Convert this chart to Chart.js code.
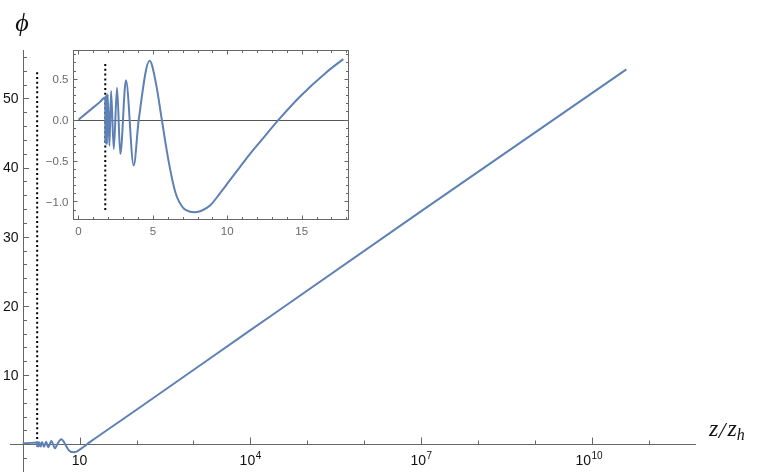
<!DOCTYPE html>
<html><head><meta charset="utf-8">
<script src="https://cdn.jsdelivr.net/npm/chart.js@4.4.1/dist/chart.umd.min.js"></script>
<style>
html,body{margin:0;padding:0;background:#fff;}
#wrap{position:relative;width:768px;height:475px;overflow:hidden;}
#main{position:absolute;left:0;top:0;}
#inset{position:absolute;left:40px;top:40px;}
</style></head><body>
<div id="wrap"><canvas id="main" width="768" height="475"></canvas><canvas id="inset" width="320" height="205"></canvas></div>
<script>
// ---- data ----
const zNear = [0, 1.0, 1.4, 1.8, 1.802, 1.804, 1.807, 1.811, 1.815, 1.821, 1.830, 1.842, 1.858, 1.882, 1.914, 1.96,
  2.08, 2.19, 2.37, 2.59, 2.81, 3.19, 3.71, 4.05, 4.78, 5.2, 5.6, 6.05, 6.5, 7.0, 7.5, 7.85, 8.3, 8.84, 9.51, 10.18,
  10.85, 11.52, 12.3, 13.46, 14.88, 16.67, 17.8];
const phiNear = [0, 0.15, 0.21, 0.27, -0.27, 0.27, -0.28, 0.28, -0.28, 0.28, -0.29, 0.29, -0.29, 0.30, -0.30, 0.31,
  -0.32, 0.35, -0.36, 0.39, -0.42, 0.48, -0.56, 0.0, 0.72, 0.45, 0.0, -0.5, -0.88, -1.07, -1.125, -1.13, -1.11, -1.05, -0.90, -0.74,
  -0.58, -0.42, -0.25, 0.0, 0.28, 0.58, 0.74];
const zTail = [100, 1e4, 1e7, 4e10];
const phiTail = [5.0, 16.5, 33.7, 54.2];
const zStar = 1.8;
const markerPhiMain = [53.8, -0.4];
const markerPhiInset = [0.68, -1.13];

const mainYTicks = [10, 20, 30, 40, 50];
const mainYTickLabels = ['10', '20', '30', '40', '50'];
const mainXTickExps = [1, 4, 7, 10];
const insetXTicks = [0, 5, 10, 15];
const insetXTickLabels = ['0', '5', '10', '15'];
const insetYTicks = [-1.0, -0.5, 0.0, 0.5];
const insetYTickLabels = ['\u22121.0', '\u22120.5', '0.0', '0.5'];

const BLUE = '#5E81B5';
const AXIS = '#666666';
const SANS = '"Liberation Sans", Arial, sans-serif';
const SERIF = '"Liberation Serif", "DejaVu Serif", serif';

const mainCurve = [];
zNear.forEach((z, i) => { if (z > 0) mainCurve.push({x: z, y: phiNear[i]}); });
zTail.forEach((z, i) => mainCurve.push({x: z, y: phiTail[i]}));
const insetCurve = zNear.map((z, i) => ({x: z, y: phiNear[i]}));

const mainAxes = {
  id: 'mainAxes',
  beforeDatasetsDraw(chart) {
    const ctx = chart.ctx, xs = chart.scales.x, ys = chart.scales.y, a = chart.chartArea;
    const y0 = Math.round(ys.getPixelForValue(0)) + 0.5;
    const x1 = Math.round(xs.getPixelForValue(1)) + 0.5;
    ctx.save();
    ctx.strokeStyle = AXIS; ctx.lineWidth = 1;
    ctx.beginPath();
    ctx.moveTo(a.left, y0); ctx.lineTo(a.right, y0);
    ctx.moveTo(x1, a.top); ctx.lineTo(x1, a.bottom);
    for (let v = -2; v <= 56; v += 2) {
      if (v === 0) continue;
      const py = Math.round(ys.getPixelForValue(v)) + 0.5;
      const len = mainYTicks.includes(v) ? 5.5 : 3.5;
      ctx.moveTo(x1, py); ctx.lineTo(x1 + len, py);
    }
    for (let e = 1; e <= 11; e++) {
      const px = Math.round(xs.getPixelForValue(Math.pow(10, e))) + 0.5;
      const len = mainXTickExps.includes(e) ? 7 : 4;
      ctx.moveTo(px, y0); ctx.lineTo(px, y0 - len);
    }
    ctx.stroke();
    ctx.fillStyle = '#111';
    ctx.font = '14px ' + SANS;
    ctx.textAlign = 'right'; ctx.textBaseline = 'middle';
    mainYTicks.forEach((v, i) => {
      ctx.fillText(mainYTickLabels[i], x1 - 5, ys.getPixelForValue(v) + 1);
    });
    ctx.textBaseline = 'alphabetic'; ctx.textAlign = 'left';
    mainXTickExps.forEach(e => {
      const cx = xs.getPixelForValue(Math.pow(10, e));
      const baseY = 465;
      ctx.font = '14px ' + SANS;
      const w1 = ctx.measureText('10').width;
      if (e === 1) { ctx.fillText('10', cx - w1 / 2, baseY); return; }
      ctx.font = '10px ' + SANS;
      const sup = String(e);
      const w2 = ctx.measureText(sup).width;
      const x = cx - (w1 + w2 + 0.5) / 2 - (e >= 10 ? 3 : 0);
      ctx.font = '14px ' + SANS;
      ctx.fillText('10', x, baseY);
      ctx.font = '10px ' + SANS;
      ctx.fillText(sup, x + w1 + 0.5, baseY - 6.5);
    });
    ctx.restore();
  },
  afterDraw(chart) {
    const ctx = chart.ctx;
    ctx.save();
    ctx.fillStyle = '#111';
    ctx.textAlign = 'center'; ctx.textBaseline = 'alphabetic';
    ctx.font = 'italic 26px ' + SERIF;
    ctx.fillText('\u03D5', 22, 31);
    ctx.textAlign = 'left';
    let x = 709;
    ctx.font = 'italic 24px ' + SERIF;
    ctx.fillText('z', x, 436);
    x += ctx.measureText('z').width + 0.5;
    ctx.fillText('/', x, 438);
    x += ctx.measureText('/').width + 2;
    ctx.fillText('z', x, 436);
    x += ctx.measureText('z').width;
    ctx.font = 'italic 16px ' + SERIF;
    ctx.fillText('h', x, 440);
    ctx.restore();
  }
};

const insetAxes = {
  id: 'insetAxes',
  beforeDatasetsDraw(chart) {
    const ctx = chart.ctx, xs = chart.scales.x, ys = chart.scales.y, a = chart.chartArea;
    ctx.save();
    ctx.fillStyle = '#fff';
    ctx.fillRect(a.left, a.top, a.right - a.left, a.bottom - a.top);
    const y0 = Math.round(ys.getPixelForValue(0)) + 0.5;
    ctx.strokeStyle = '#555'; ctx.lineWidth = 1;
    ctx.beginPath(); ctx.moveTo(a.left, y0); ctx.lineTo(a.right, y0); ctx.stroke();
    ctx.strokeStyle = AXIS;
    ctx.strokeRect(a.left, a.top, a.right - a.left, a.bottom - a.top);
    ctx.beginPath();
    for (let v = 0; v <= 18; v++) {
      const px = Math.round(xs.getPixelForValue(v)) + 0.5;
      if (px > a.right - 1.5) continue;
      const len = insetXTicks.includes(v) ? 4 : 2.5;
      ctx.moveTo(px, a.bottom); ctx.lineTo(px, a.bottom - len);
      ctx.moveTo(px, a.top); ctx.lineTo(px, a.top + len);
    }
    for (let k = -12; k <= 8; k++) {
      const v = k / 10;
      const py = Math.round(ys.getPixelForValue(v)) + 0.5;
      if (py > a.bottom - 1.5 || py < a.top + 1.5) continue;
      const len = (k % 5 === 0) ? 4 : 2.5;
      ctx.moveTo(a.left, py); ctx.lineTo(a.left + len, py);
      ctx.moveTo(a.right, py); ctx.lineTo(a.right - len, py);
    }
    ctx.stroke();
    ctx.fillStyle = '#6a6a6a';
    ctx.font = '11.5px ' + SANS;
    ctx.textAlign = 'right'; ctx.textBaseline = 'middle';
    insetYTicks.forEach((v, i) => ctx.fillText(insetYTickLabels[i], a.left - 5, ys.getPixelForValue(v) + 1));
    ctx.textAlign = 'center';
    insetXTicks.forEach((v, i) => ctx.fillText(insetXTickLabels[i], xs.getPixelForValue(v), a.bottom + 12));
    ctx.restore();
  }
};

const common = {
  responsive: false, animation: false, devicePixelRatio: 1,
  plugins: { legend: { display: false }, tooltip: { enabled: false } },
  elements: { point: { radius: 0 } },
  events: []
};

new Chart(document.getElementById('main'), {
  type: 'line',
  data: { datasets: [
    { data: mainCurve, borderColor: BLUE, borderWidth: 2, cubicInterpolationMode: 'monotone', fill: false },
    { data: markerPhiMain.map(p => ({x: zStar, y: p})), borderColor: '#000', borderWidth: 2, borderDash: [2, 2.8], borderCapStyle: 'butt', fill: false }
  ]},
  options: Object.assign({}, common, {
    layout: { padding: { left: 10, right: 72, top: 50, bottom: 3 } },
    scales: {
      x: { type: 'logarithmic', min: 0.616, max: 6.68e11, display: false },
      y: { type: 'linear', min: -4, max: 57, display: false }
    }
  }),
  plugins: [mainAxes]
});

new Chart(document.getElementById('inset'), {
  type: 'line',
  data: { datasets: [
    { data: insetCurve, borderColor: BLUE, borderWidth: 2, cubicInterpolationMode: 'monotone', fill: false },
    { data: markerPhiInset.map(p => ({x: zStar, y: p})), borderColor: '#000', borderWidth: 2, borderDash: [2, 2.8], borderCapStyle: 'butt', fill: false }
  ]},
  options: Object.assign({}, common, {
    layout: { padding: { left: 33.5, right: 11.5, top: 10.5, bottom: 25.5 } },
    scales: {
      x: { type: 'linear', min: -0.336, max: 18.15, display: false },
      y: { type: 'linear', min: -1.22, max: 0.845, display: false }
    }
  }),
  plugins: [insetAxes]
});
</script>
</body></html>
